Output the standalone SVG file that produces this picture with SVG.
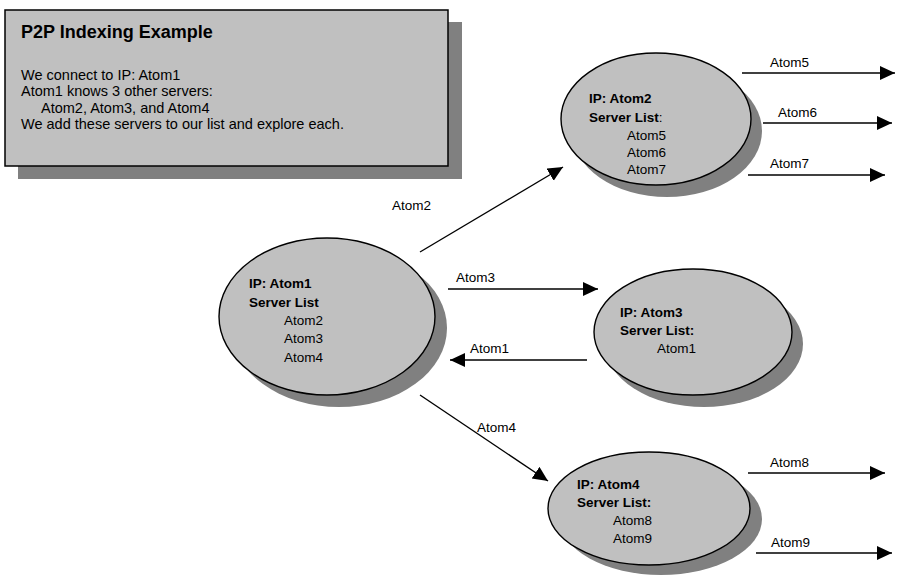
<svg xmlns="http://www.w3.org/2000/svg" width="902" height="575" viewBox="0 0 902 575">
<style>
  text { font-family: "Liberation Sans", Arial, sans-serif; fill: #000; }
  .t { font-size: 13.5px; }
  .b { font-size: 13.5px; font-weight: bold; }
  .body { font-size: 14.5px; }
  .title { font-size: 18px; font-weight: bold; }
  .shadow { fill: #808080; stroke: none; }
  .node { fill: #c0c0c0; stroke: #000; stroke-width: 1.4; }
  .conn { stroke: #000; stroke-width: 1.4; fill: none; marker-end: url(#ah); }
</style>
<defs>
  <marker id="ah" markerUnits="userSpaceOnUse" markerWidth="16" markerHeight="15" refX="15" refY="7" orient="auto">
    <path d="M0,0 L15,7 L0,14 z" fill="#000"/>
  </marker>
</defs>
<rect width="902" height="575" fill="#fff"/>

<g id="note">
  <rect class="shadow" x="18" y="22" width="444" height="157"/>
  <rect x="5" y="10" width="443" height="156" fill="#c0c0c0" stroke="#000" stroke-width="1.5"/>
  <text class="title" x="21" y="38">P2P Indexing Example</text>
  <text class="body" x="21" y="80">We connect to IP: Atom1</text>
  <text class="body" x="21" y="96">Atom1 knows 3 other servers:</text>
  <text class="body" x="41" y="113">Atom2, Atom3, and Atom4</text>
  <text class="body" x="21" y="129">We add these servers to our list and explore each.</text>
</g>

<g id="atom1">
  <ellipse class="shadow" cx="339" cy="328" rx="108" ry="79"/>
  <ellipse class="node" cx="327" cy="316.5" rx="108" ry="78.5"/>
  <text class="b" x="249" y="288">IP: Atom1</text>
  <text class="b" x="249" y="307">Server List</text>
  <text class="t" x="284" y="325">Atom2</text>
  <text class="t" x="284" y="343">Atom3</text>
  <text class="t" x="284" y="362">Atom4</text>
</g>

<g id="atom2">
  <ellipse class="shadow" cx="667" cy="131" rx="95" ry="66"/>
  <ellipse class="node" cx="656" cy="119" rx="95" ry="66"/>
  <text class="b" x="589" y="103">IP: Atom2</text>
  <text class="t" x="589" y="122"><tspan font-weight="bold">Server List</tspan>:</text>
  <text class="t" x="627" y="140">Atom5</text>
  <text class="t" x="627" y="157">Atom6</text>
  <text class="t" x="627" y="174">Atom7</text>
</g>

<g id="atom3">
  <ellipse class="shadow" cx="704" cy="344" rx="99" ry="63"/>
  <ellipse class="node" cx="693" cy="332" rx="99" ry="63"/>
  <text class="b" x="620" y="317">IP: Atom3</text>
  <text class="b" x="620" y="335">Server List:</text>
  <text class="t" x="657" y="353">Atom1</text>
</g>

<g id="atom4">
  <ellipse class="shadow" cx="661" cy="519" rx="101" ry="56"/>
  <ellipse class="node" cx="649" cy="508.5" rx="101" ry="56.5"/>
  <text class="b" x="577" y="489">IP: Atom4</text>
  <text class="b" x="577" y="507">Server List:</text>
  <text class="t" x="613" y="525">Atom8</text>
  <text class="t" x="613" y="543">Atom9</text>
</g>

<g id="connectors">
  <line class="conn" x1="420" y1="252" x2="563" y2="167"/>
  <text class="t" x="392" y="210">Atom2</text>
  <line class="conn" x1="448" y1="289" x2="598" y2="289"/>
  <text class="t" x="456" y="282">Atom3</text>
  <line class="conn" x1="587" y1="360" x2="450" y2="360"/>
  <text class="t" x="470" y="353">Atom1</text>
  <line class="conn" x1="420" y1="395" x2="548" y2="481"/>
  <text class="t" x="477" y="432">Atom4</text>
  <line class="conn" x1="742" y1="73" x2="895" y2="73"/>
  <text class="t" x="770" y="67">Atom5</text>
  <line class="conn" x1="763" y1="123" x2="892" y2="123"/>
  <text class="t" x="778" y="117">Atom6</text>
  <line class="conn" x1="748" y1="175" x2="885" y2="175"/>
  <text class="t" x="770" y="168">Atom7</text>
  <line class="conn" x1="748" y1="473" x2="885" y2="473"/>
  <text class="t" x="770" y="467">Atom8</text>
  <line class="conn" x1="756" y1="553" x2="892" y2="553"/>
  <text class="t" x="771" y="547">Atom9</text>
</g>
</svg>
